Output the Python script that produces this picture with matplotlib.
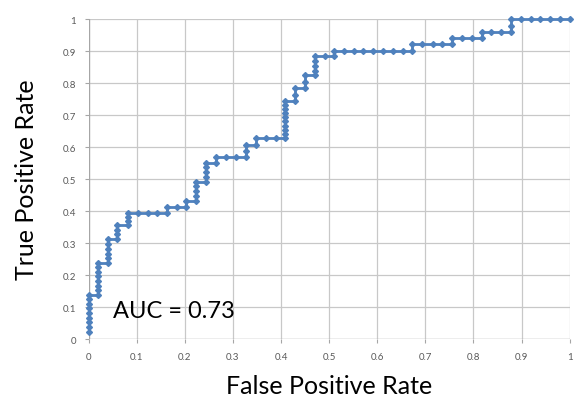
import matplotlib
matplotlib.use('Agg')
from matplotlib import pyplot as plt
import numpy as np

# ROC curve vertices (one marker per threshold)
fpr = [0.0, 0.0, 0.0, 0.0, 0.0, 0.0, 0.0, 0.0, 0.0,
       0.02, 0.02, 0.02, 0.02, 0.02, 0.02, 0.02, 0.02,
       0.04, 0.04, 0.04, 0.04, 0.04, 0.04,
       0.06, 0.06, 0.06, 0.06,
       0.081, 0.081, 0.081, 0.081,
       0.102, 0.123, 0.143, 0.164,
       0.164,
       0.183, 0.202,
       0.202,
       0.224, 0.224, 0.224, 0.224, 0.224,
       0.245, 0.245, 0.245, 0.245, 0.245,
       0.265, 0.265,
       0.286, 0.306, 0.327,
       0.327, 0.327,
       0.348, 0.348,
       0.369, 0.390, 0.409,
       0.409, 0.409, 0.409, 0.409, 0.409, 0.409, 0.409, 0.409, 0.409,
       0.429, 0.429, 0.429,
       0.450, 0.450, 0.450,
       0.471, 0.471, 0.471, 0.471, 0.471,
       0.491, 0.510,
       0.510,
       0.530, 0.551, 0.571, 0.591, 0.611, 0.632, 0.653, 0.673,
       0.673,
       0.694, 0.715, 0.735, 0.755,
       0.755,
       0.776, 0.796, 0.817,
       0.817,
       0.837, 0.857, 0.878,
       0.878, 0.878,
       0.898, 0.919, 0.939, 0.959, 0.980, 1.0]
tpr = [0.021, 0.036, 0.052, 0.067, 0.081, 0.096, 0.110, 0.125, 0.138,
       0.138, 0.152, 0.167, 0.181, 0.196, 0.210, 0.224, 0.238,
       0.238, 0.253, 0.267, 0.282, 0.297, 0.3125,
       0.3125, 0.327, 0.342, 0.356,
       0.356, 0.369, 0.381, 0.394,
       0.394, 0.394, 0.394, 0.394,
       0.413,
       0.413, 0.413,
       0.432,
       0.432, 0.448, 0.463, 0.477, 0.492,
       0.492, 0.507, 0.521, 0.536, 0.550,
       0.550, 0.568,
       0.568, 0.568, 0.568,
       0.589, 0.606,
       0.606, 0.627,
       0.627, 0.627, 0.627,
       0.641, 0.654, 0.667, 0.680, 0.693, 0.706, 0.719, 0.732, 0.745,
       0.745, 0.764, 0.783,
       0.783, 0.803, 0.824,
       0.824, 0.839, 0.854, 0.869, 0.883,
       0.883, 0.883,
       0.900,
       0.900, 0.900, 0.900, 0.900, 0.900, 0.900, 0.900, 0.900,
       0.922,
       0.922, 0.922, 0.922, 0.922,
       0.940,
       0.940, 0.940, 0.940,
       0.958,
       0.958, 0.958, 0.958,
       0.979, 1.0,
       1.0, 1.0, 1.0, 1.0, 1.0, 1.0]
ticks = np.round(np.arange(0, 1.01, 0.1), 1)
tick_labels = ['0', '0.1', '0.2', '0.3', '0.4', '0.5', '0.6', '0.7', '0.8', '0.9', '1']
auc = 0.73

plt.rcParams['font.family'] = ['Lato', 'DejaVu Sans']

fig = plt.figure(figsize=(5.81, 4.02), dpi=100)
ax = fig.add_axes([0.1525, 0.1542, 0.828, 0.796])

ax.plot(fpr, tpr, color='#4f81bd', linewidth=2, drawstyle='steps-post',
        zorder=3, clip_on=False)
# markers on every point, drawn over the step line
ax.plot(fpr, tpr, linestyle='none', color='#4f81bd', marker='D', markersize=3,
        zorder=4, clip_on=False)

ax.set_xlim(0, 1)
ax.set_ylim(0, 1)
ax.set_xticks(ticks)
ax.set_yticks(ticks)
ax.set_xticklabels(tick_labels)
ax.set_yticklabels(tick_labels)
ax.tick_params(direction='out', length=3, width=0.8, color='#a6a6a6',
               labelsize=7, labelcolor='#595959', pad=6)
ax.grid(True, color='#c8c8c8', linewidth=0.9)
ax.set_axisbelow(True)
for s in ax.spines.values():
    s.set_visible(False)
ax.axhline(0, color='#a6a6a6', linewidth=0.9, zorder=1)
ax.axvline(0, color='#a6a6a6', linewidth=0.9, zorder=1)

ax.set_xlabel('False Positive Rate', fontsize=18, labelpad=10)
ax.set_ylabel('True Positive Rate', fontsize=18, labelpad=18)
ax.text(0.05, 0.09, 'AUC = %.2f' % auc, fontsize=17, va='center', ha='left')

fig.savefig('out.png', dpi=100)
